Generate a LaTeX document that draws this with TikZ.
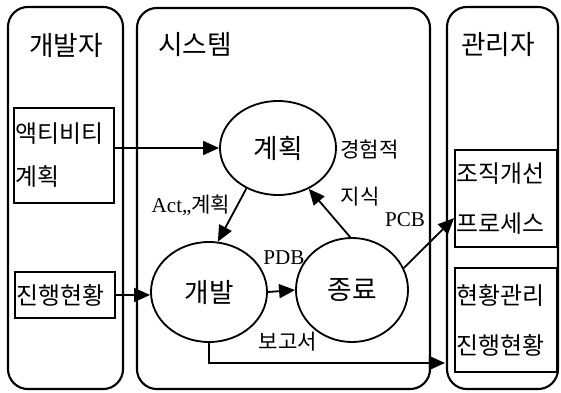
\documentclass[tikz,border=0pt]{standalone}
\usepackage{fontspec}
\setmainfont{Liberation Serif}
\newfontfamily\kr{Noto Sans CJK KR}
\usepackage{tikz}
\usetikzlibrary{arrows.meta,shapes.geometric}

\begin{document}
\begin{tikzpicture}[x=0.025cm, y=-0.025cm,
  lane/.style={draw=black, line width=1.5pt, rounded corners=0.5cm, inner sep=0pt},
  title/.style={font=\kr\fontsize{19}{19}\selectfont, inner sep=0pt},
  box/.style={draw=black, line width=1.3pt, inner xsep=1pt, inner ysep=0pt, align=left, font=\kr\fontsize{17}{#1}\selectfont},
  box/.default=20pt,
  stage/.style={draw=black, ellipse, line width=1.3pt, inner sep=0pt, font=\kr\fontsize{19}{19}\selectfont},
  note/.style={font=\kr\fontsize{15}{15}\selectfont, inner sep=0pt},
  latin/.style={font=\fontsize{15}{15}\selectfont, inner sep=0pt},
  arr/.style={-{Triangle[length=4mm,width=3.5mm]}, line width=1.3pt}]
\useasboundingbox (0,0) rectangle (561,393);
%레인%
\node[lane, minimum width=2.875cm, minimum height=9.55cm] (devLane) at (65.5,198) {};
\node[lane, minimum width=7.325cm, minimum height=9.525cm] (sysLane) at (283.5,198.5) {};
\node[lane, minimum width=2.775cm, minimum height=9.55cm] (mgrLane) at (502.5,198) {};
\node[title] (devTitle) at (66,45) {개발자};
\node[title, anchor=west] (sysTitle) at (158,45) {시스템};
\node[title] (mgrTitle) at (498,45) {관리자};
%상자%
\node[box=30.6pt, text width=2.43cm, minimum height=2.375cm] (act) at (64,155.5) {액티비티\\계획};
\node[box, text width=2.43cm, minimum height=1.15cm] (prog) at (65,295) {진행현황};
\node[box=35.6pt, text width=2.48cm, minimum height=2.425cm] (org) at (506,198.5) {조직개선\\프로세스};
\node[box=35.6pt, text width=2.48cm, minimum height=2.6cm] (stat) at (506,320) {현황관리\\진행현황};
%타원%
\node[stage, minimum width=2.9cm, minimum height=2.35cm] (plan) at (278,148) {계획};
\node[stage, minimum width=2.9cm, minimum height=2.5cm] (dev) at (209,292) {개발};
\node[stage, minimum width=2.8cm, minimum height=2.6cm] (done) at (352,290) {종료};
%글자%
\node[note, anchor=west] (exp) at (340,150) {경험적};
\node[note] (know) at (360,197) {지식};
\node[latin] (pcb) at (405,220) {PCB};
\node[latin] (pdb) at (284,258) {PDB};
\node[note] (rep) at (288,342) {보고서};
\node[latin] (actNote) at (191,205) {Act,,{\kr 계획}};
%화살표%
\coordinate (rptEnd) at (445,363);
\draw[arr] (act.east |- plan.west) -- (plan.west);
\draw[arr] (prog.east) -- (prog.east -| dev.west);
\draw[arr] (plan.232) -- (dev.80);
\draw[arr] (done.92) -- (plan.307);
\draw[arr] (dev.east) -- (done.west);
\draw[arr] (done.23) -- ([yshift=-0.49cm]org.west);
\draw[arr] (dev.south) |- (rptEnd);
\end{tikzpicture}
\end{document}
